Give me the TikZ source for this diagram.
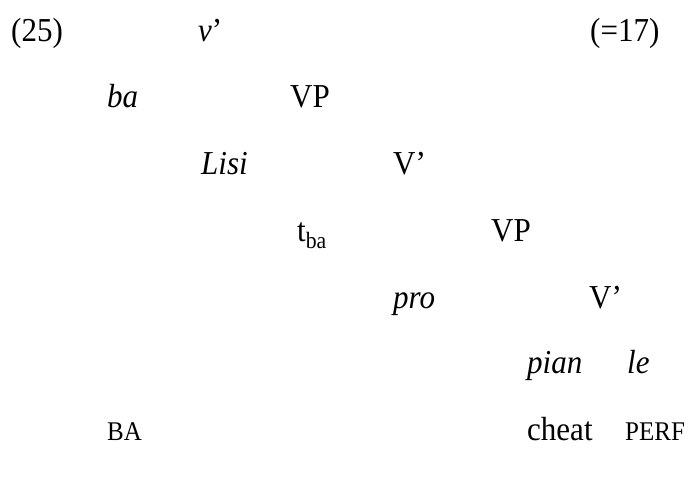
\documentclass[tikz,border=0pt]{standalone}
\usepackage{fontspec}
\setmainfont{Liberation Serif}
\newcommand{\tall}[1]{\scalebox{1}[1.08]{#1}}
\begin{document}
\begin{tikzpicture}[x=1pt,y=-1pt,
  lbl/.style={anchor=base west,inner sep=0pt,font=\fontsize{31}{34}\selectfont},
  sml/.style={anchor=base west,inner sep=0pt,font=\fontsize{25}{28}\selectfont}]
\useasboundingbox (0,0) rectangle (690,482);
\node[lbl] (ex) at (11,41) {\tall{(25)}};
\node[lbl] (vbar) at (198,41) {\tall{\textit{v}’}};
\node[lbl] (ref) at (590,41) {\tall{(=17)}};
\node[lbl] (ba) at (107,107) {\tall{\textit{ba}}};
\node[lbl] (vp1) at (290,107) {\tall{VP}};
\node[lbl] (lisi) at (201,174) {\tall{\textit{Lisi}}};
\node[lbl] (vb1) at (393,174) {\tall{V’}};
\node[lbl] (tba) at (297,241) {\tall{t\textsubscript{ba}}};
\node[lbl] (vp2) at (491,241) {\tall{VP}};
\node[lbl] (pro) at (393,308) {\tall{\textit{pro}}};
\node[lbl] (vb2) at (589,308) {\tall{V’}};
\node[lbl] (pian) at (527,373) {\tall{\textit{pian}}};
\node[lbl] (le) at (627,373) {\tall{\textit{le}}};
\node[sml] (BA) at (107,440) {\tall{BA}};
\node[lbl] (cheat) at (527,440) {\tall{cheat}};
\node[sml] (perf) at (625,440) {\tall{PERF}};
\end{tikzpicture}
\end{document}
